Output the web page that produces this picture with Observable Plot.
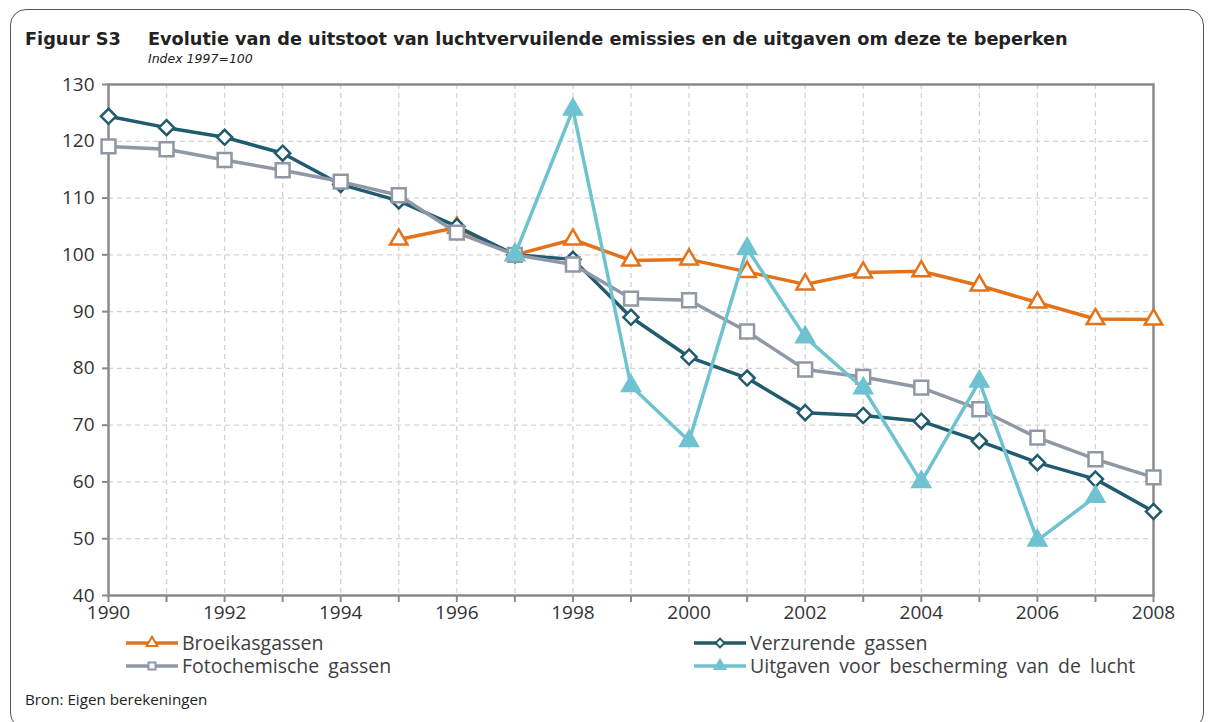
<!DOCTYPE html>
<html>
<head>
<meta charset="utf-8">
<script src="https://cdn.jsdelivr.net/npm/d3@7"></script>
<script src="https://cdn.jsdelivr.net/npm/@observablehq/plot@0.6"></script>
<style>
  html, body { margin: 0; padding: 0; background: #fff; }
  body { width: 1215px; height: 722px; position: relative; overflow: hidden; font-family: "Open Sans", sans-serif; color: #333; }
  #box { position: absolute; left: 10px; top: 9px; width: 1194px; height: 720px; border: 1.5px solid #555; border-radius: 16px; box-sizing: border-box; }
  #fig { position: absolute; left: 25px; top: 29px; font-family: "DejaVu Sans", sans-serif; font-weight: bold; font-size: 17.7px; color: #222; }
  #title { position: absolute; left: 148px; top: 29px; font-family: "DejaVu Sans", sans-serif; font-weight: bold; font-size: 17.7px; color: #222; white-space: nowrap; }
  #sub { position: absolute; left: 148px; top: 51px; font-family: "DejaVu Sans", sans-serif; font-style: italic; font-size: 12.5px; color: #222; }
  #chart { position: absolute; left: 0; top: 70px; }
  .leg { position: absolute; display: flex; align-items: center; height: 22px; line-height: 20px; font-size: 19.5px; word-spacing: 4px; color: #404040; white-space: nowrap; }
  .leg svg { margin-right: 3px; }
  #src { position: absolute; left: 25px; top: 689px; font-size: 15.2px; line-height: 20px; color: #222; }
</style>
</head>
<body>
<div id="box"></div>
<div id="fig">Figuur S3</div>
<div id="title">Evolutie van de uitstoot van luchtvervuilende emissies en de uitgaven om deze te beperken</div>
<div id="sub">Index 1997=100</div>
<div id="chart"></div>
<div id="legend"></div>
<div id="src">Bron: Eigen berekeningen</div>
<script>
const years = d3.range(1990, 2009);
const xTickLabels = [1990, 1992, 1994, 1996, 1998, 2000, 2002, 2004, 2006, 2008];
const yTicks = [40, 50, 60, 70, 80, 90, 100, 110, 120, 130];

const seriesNames = ["Broeikasgassen", "Verzurende gassen", "Fotochemische gassen", "Uitgaven voor bescherming van de lucht"];
const seriesColors = ["#e3731b", "#215b6e", "#8f98a4", "#6fc3d1"];
const seriesSymbols = ["triangle", "diamond2", "square", "triangle"];
const seriesFilled = [false, false, false, true];

// values per year 1990..2008 (null = no data)
const broeikas = [null, null, null, null, null, 102.7, 104.8, 100, 102.7, 99.0, 99.2, 97.0, 94.8, 96.9, 97.1, 94.6, 91.6, 88.7, 88.6];
const verzurende = [124.4, 122.4, 120.7, 117.9, 112.4, 109.5, 105.0, 100, 99.2, 89.0, 82.0, 78.3, 72.2, 71.7, 70.7, 67.2, 63.4, 60.5, 54.8];
const fotochemisch = [119.1, 118.6, 116.7, 114.9, 112.9, 110.5, 103.9, 100, 98.3, 92.3, 92.0, 86.5, 79.8, 78.5, 76.6, 72.8, 67.8, 64.0, 60.8];
const uitgaven = [null, null, null, null, null, null, null, 100, 125.6, 76.9, 67.2, 101.1, 85.5, 76.5, 60.0, 77.7, 49.7, 57.4, null];

const seriesValues = [broeikas, verzurende, fotochemisch, uitgaven];
const symbolRadius = {triangle: 6.5, diamond2: 6.8, square: 7.8};

const marks = [
  Plot.gridX(years.slice(1, -1), {stroke: "#d3d3d3", strokeOpacity: 1, strokeWidth: 1.3, strokeDasharray: "5,4"}),
  Plot.gridY(yTicks.slice(1, -1), {stroke: "#d3d3d3", strokeOpacity: 1, strokeWidth: 1.3, strokeDasharray: "5,4"}),
  Plot.axisY({ticks: yTicks, tickSize: 6, tickPadding: 8, stroke: "#8a8a8a", strokeWidth: 2, fontSize: 19, fill: "#333", label: null}),
  Plot.axisX({ticks: years, tickSize: 7, tickFormat: () => "", stroke: "#8a8a8a", strokeWidth: 2, label: null}),
  Plot.axisX({ticks: xTickLabels, tickSize: 0, tickPadding: 10, tickFormat: d => String(d), fontSize: 19, fill: "#333", label: null}),
  Plot.frame({stroke: "#8a8a8a", strokeWidth: 2.5})
];

seriesNames.forEach((name, i) => {
  const data = years.map((yr, j) => ({year: yr, value: seriesValues[i][j]})).filter(d => d.value != null);
  marks.push(Plot.line(data, {x: "year", y: "value", stroke: seriesColors[i], strokeWidth: 3.5}));
  marks.push(Plot.dot(data, {
    x: "year", y: "value", symbol: () => seriesSymbols[i], r: symbolRadius[seriesSymbols[i]],
    stroke: seriesColors[i], strokeWidth: 2.5,
    fill: seriesFilled[i] ? seriesColors[i] : "white"
  }));
});

const chart = Plot.plot({
  width: 1215,
  height: 555,
  marginLeft: 108,
  marginRight: 62,
  marginTop: 14,
  marginBottom: 30,
  x: {domain: [1990, 2008]},
  y: {domain: [40, 130]},
  symbol: {type: "identity"},
  style: {fontFamily: "Open Sans, sans-serif", background: "transparent", overflow: "visible"},
  marks
});
document.getElementById("chart").appendChild(chart);

// legend
const legPos = [[125, 632], [693, 632], [125, 655], [693, 655]];
const legend = document.getElementById("legend");
seriesNames.forEach((name, i) => {
  const div = document.createElement("div");
  div.className = "leg";
  div.style.left = legPos[i][0] + "px";
  div.style.top = legPos[i][1] + "px";
  const sw = d3.create("svg").attr("width", 54).attr("height", 22);
  sw.append("line").attr("x1", 1).attr("x2", 53).attr("y1", 11).attr("y2", 11)
    .attr("stroke", seriesColors[i]).attr("stroke-width", 3.5);
  const sym = seriesSymbols[i] === "triangle" ? d3.symbolTriangle : seriesSymbols[i] === "diamond2" ? d3.symbolDiamond2 : d3.symbolSquare;
  sw.append("path").attr("d", d3.symbol(sym, 50)()).attr("transform", "translate(27,11)")
    .attr("fill", seriesFilled[i] ? seriesColors[i] : "white").attr("stroke", seriesColors[i]).attr("stroke-width", 2);
  div.appendChild(sw.node());
  const t = document.createElement("span");
  t.textContent = name;
  div.appendChild(t);
  legend.appendChild(div);
});
</script>
</body>
</html>
